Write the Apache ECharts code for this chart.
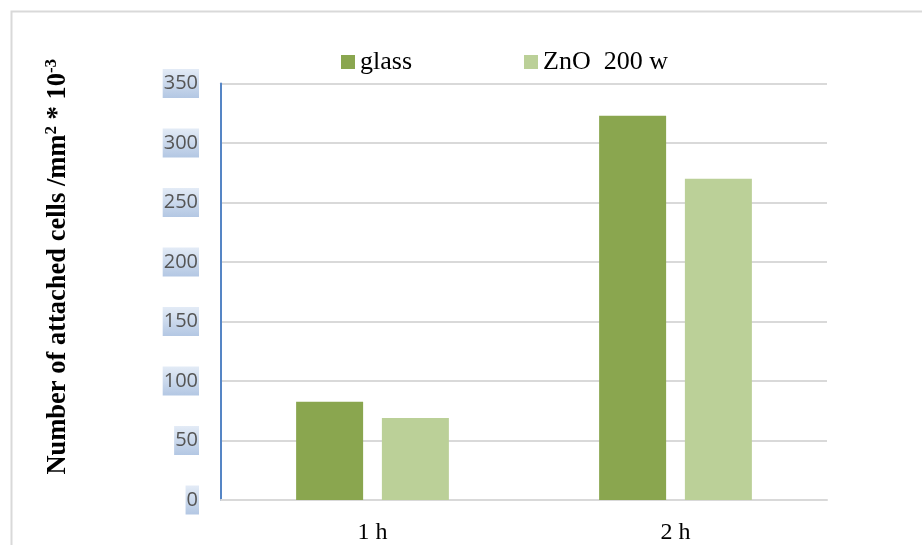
<!DOCTYPE html>
<html>
<head>
<meta charset="utf-8">
<script src="https://cdn.jsdelivr.net/npm/echarts@6/dist/echarts.min.js"></script>
<style>html,body{margin:0;padding:0;background:#fff;}#c{width:922px;height:545px;}</style>
</head>
<body>
<div id="c"></div>
<script>
var categories = ['1 h', '2 h'];
var glassValues = [82.5, 323];
var znoValues = [69, 270];
var seriesNames = ['glass', 'ZnO  200 w'];
var yTicks = {min: 0, max: 350, interval: 50};

var chart = echarts.init(document.getElementById('c'));
var labelBg = new echarts.graphic.LinearGradient(0, 0, 0, 1, [
  {offset: 0, color: '#e3ebf6'},
  {offset: 1, color: '#b3c7e3'}
]);
chart.setOption({
  animation: false,
  backgroundColor: '#ffffff',
  graphic: [{
    type: 'rect', left: 9, top: 9, z: -1,
    shape: {width: 960, height: 600},
    style: {fill: 'none', stroke: '#d9d9d9', lineWidth: 2}
  }],
  legend: {
    left: 336, top: 44,
    itemWidth: 14, itemHeight: 14, itemGap: 112,
    icon: 'rect',
    textStyle: {fontFamily: 'Liberation Serif', fontSize: 26, color: '#000'},
    data: seriesNames
  },
  grid: {left: 221, right: 95, top: 83.5, bottom: 42, containLabel: false},
  xAxis: {
    type: 'category',
    data: categories,
    axisLine: {lineStyle: {color: '#d9d9d9', width: 2}},
    axisTick: {show: false},
    axisLabel: {fontFamily: 'Liberation Serif', fontSize: 24, color: '#000', margin: 21}
  },
  yAxis: {
    type: 'value',
    min: yTicks.min, max: yTicks.max, interval: yTicks.interval,
    axisLine: {show: true, lineStyle: {color: '#5585c5', width: 2}},
    axisTick: {show: false},
    splitLine: {lineStyle: {color: '#d9d9d9', width: 2}},
    axisLabel: {
      fontFamily: 'Open Sans', fontSize: 20, color: '#555555', margin: 22,
      backgroundColor: labelBg, padding: [5, 1, 4, 1]
    },
    name: '{t|Number of attached cells /mm}{s|2}{t| * 10}{s|-3}',
    nameLocation: 'middle',
    nameGap: 148,
    nameTextStyle: {
      padding: [0, 0, 0, 50],
      rich: {
        t: {fontFamily: 'Liberation Serif', fontWeight: 'bold', fontSize: 26.5, color: '#000', lineHeight: 30},
        s: {fontFamily: 'Liberation Serif', fontWeight: 'bold', fontSize: 17, color: '#000', verticalAlign: 'top', lineHeight: 30, padding: [0, 0, 12, 0]}
      }
    }
  },
  series: [
    {name: seriesNames[0], type: 'bar', data: glassValues, barWidth: 67, barGap: '28%',
     itemStyle: {color: '#8aa64f'}},
    {name: seriesNames[1], type: 'bar', data: znoValues, barWidth: 67,
     itemStyle: {color: '#bbd098'}}
  ]
});
</script>
</body>
</html>
